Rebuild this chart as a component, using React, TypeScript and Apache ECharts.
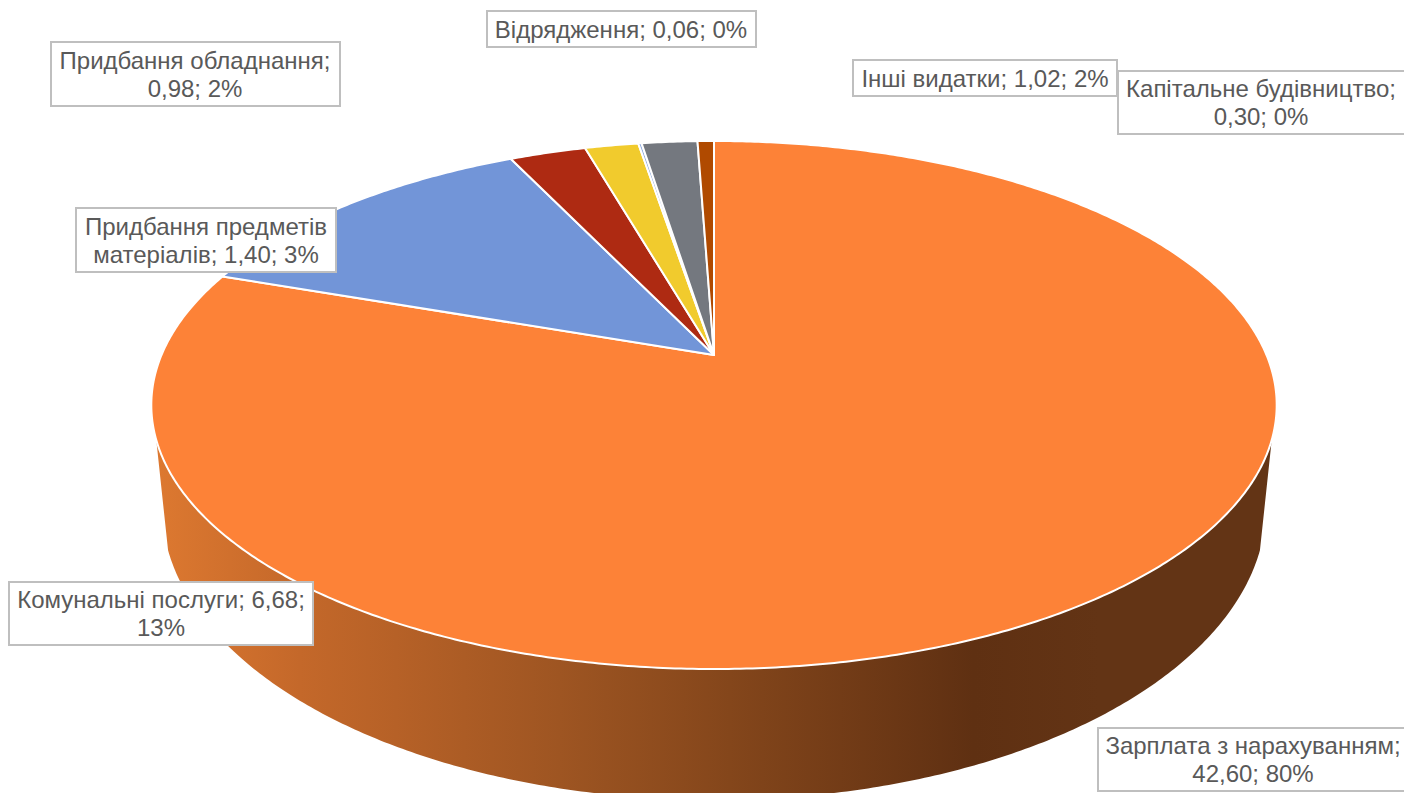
import React, { useEffect, useRef } from "react";
import * as echarts from "echarts";

// ---- data ----
const categories = [
  "Зарплата з нарахуванням",
  "Комунальні послуги",
  "Придбання предметів\nматеріалів",
  "Придбання обладнання",
  "Відрядження",
  "Інші видатки",
  "Капітальне будівництво",
];
const values = [42.6, 6.68, 1.4, 0.98, 0.06, 1.02, 0.3];
const percents = ["80%", "13%", "3%", "2%", "0%", "2%", "0%"];

// ---- styles and layout ----
const sliceColors = ["#FD8237", "#7295D8", "#AE2A12", "#F1CB2D", "#8FAADC", "#74787F", "#B04A00"];
const afterName = [";\n", "; ", "; ", ";\n", "; ", "; ", ";\n"];
const afterValue = ["; ", ";\n", "; ", "; ", "; ", "; ", "; "];
// x, y, width, height of every label box
const labelBoxes = [
  [1098, 728, 320, 63],
  [9, 582, 304, 63],
  [76, 208, 260, 64],
  [51, 42, 289, 64],
  [487, 11, 269, 36],
  [853, 60, 264, 36],
  [1118, 71, 288, 63],
];
const labelCentersX = [1253, 161, 206, 195, 621, 985, 1261];

// top face: perspective projection of the unit circle
const CX = 714;
const TOP = { x: 552.5, a: 187.3, b: 355, c: -0.1894 };
// lower rim of the side wall
const BOTTOM = { cy: 507, rx: 552, ry: 293 };
const WALL_FROM = 108.3;
const WALL_TO = 251.7;
const RIM_FROM = 98.5;
const RIM_TO = 261.5;
const RAD = Math.PI / 180;

function topPoint(deg: number): number[] {
  const sx = Math.sin(deg * RAD);
  const sy = -Math.cos(deg * RAD);
  const w = 1 + TOP.c * sy;
  return [CX + (TOP.x * sx) / w, (TOP.a * sy + TOP.b) / w];
}
function rimPoint(deg: number): number[] {
  const t = (deg - WALL_FROM) / (WALL_TO - WALL_FROM);
  const p = (RIM_FROM + t * (RIM_TO - RIM_FROM)) * RAD;
  return [CX + BOTTOM.rx * Math.sin(p), BOTTOM.cy - BOTTOM.ry * Math.cos(p)];
}
function arc(fn: (d: number) => number[], from: number, to: number): number[][] {
  const pts: number[][] = [];
  const n = Math.max(2, Math.ceil(Math.abs(to - from) / 0.5));
  for (let i = 0; i <= n; i++) pts.push(fn(from + ((to - from) * i) / n));
  return pts;
}

const total = values.reduce((a, b) => a + b, 0);

const wallFill = new echarts.graphic.LinearGradient(
  160, 0, 1100, 0,
  [
    { offset: 0, color: "#DC7830" },
    { offset: 0.149, color: "#C4682A" },
    { offset: 0.4255, color: "#9E5522" },
    { offset: 0.606, color: "#84461B" },
    { offset: 0.865, color: "#5F3012" },
    { offset: 1, color: "#633415" },
  ],
  true
);

function renderSlice(params: any, api: any) {
  const i = params.dataIndex;
  let start = 0;
  for (let k = 0; k < i; k++) start += (values[k] / total) * 360;
  const end = start + (api.value(0) / total) * 360;
  const children: any[] = [];
  const wa = Math.max(start, WALL_FROM);
  const wb = Math.min(end, WALL_TO);
  if (wb > wa) {
    children.push({
      type: "polygon",
      shape: { points: [...arc(topPoint, wa, wb), ...arc(rimPoint, wb, wa)] },
      style: { fill: wallFill, stroke: null },
    });
  }
  children.push({
    type: "polygon",
    shape: { points: [[CX, TOP.b], ...arc(topPoint, start, end)] },
    style: { fill: sliceColors[i], stroke: "#FFFFFF", lineWidth: 2, lineJoin: "round" },
  });
  return { type: "group", children };
}

function labelText(i: number): string {
  const v = values[i].toFixed(2).replace(".", ",");
  return categories[i] + afterName[i] + v + afterValue[i] + percents[i];
}

export default function App() {
  const ref = useRef<HTMLDivElement>(null);
  useEffect(() => {
    document.body.style.margin = "0";
    const chart = echarts.init(ref.current!, null, { renderer: "svg" });
    chart.setOption({
      animation: false,
      backgroundColor: "#FFFFFF",
      series: [
        {
          type: "custom",
          coordinateSystem: "none",
          renderItem: renderSlice,
          data: values.map((v) => [v]),
          silent: true,
        },
      ],
      graphic: categories.map((_, i) => {
        const [x, y, w, h] = labelBoxes[i];
        return {
          type: "group",
          z: 100,
          children: [
            {
              type: "rect",
              shape: { x, y, width: w, height: h },
              style: { fill: "#FFFFFF", stroke: "#BFBFBF", lineWidth: 2 },
              z: 100,
            },
            {
              type: "text",
              z: 101,
              style: {
                x: labelCentersX[i],
                y: y + h / 2,
                text: labelText(i),
                fontFamily: "Liberation Sans, Arial, sans-serif",
                fontSize: 24,
                lineHeight: 28,
                fill: "#595959",
                align: "center",
                verticalAlign: "middle",
              },
            },
          ],
        };
      }),
    });
    return () => chart.dispose();
  }, []);
  return <div ref={ref} style={{ position: "absolute", left: 0, top: 0, width: 1404, height: 793 }} />;
}
